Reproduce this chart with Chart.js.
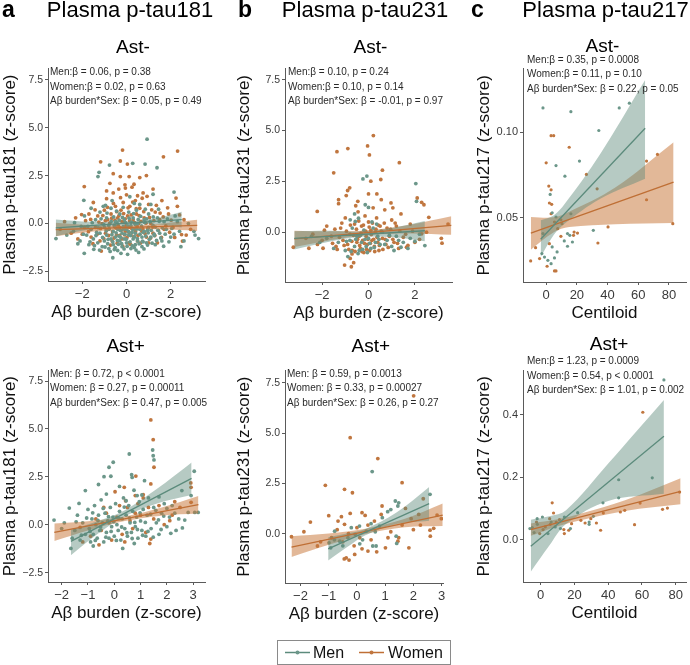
<!DOCTYPE html>
<html><head><meta charset="utf-8">
<script src="https://cdn.jsdelivr.net/npm/chart.js@4.4.1/dist/chart.umd.min.js"></script>
<style>
html,body{margin:0;padding:0;background:#fff;}
#wrap{position:relative;width:690px;height:665px;overflow:hidden;}
#wrap canvas{position:absolute;}
#over{position:absolute;left:0;top:0;}
</style></head><body><div id="wrap"></div>
<script>
// ---------------- ticks ----------------
const zTicks = [-2.5, 0, 2.5, 5, 7.5];
const zTickLabels = ['\u22122.5', '0.0', '2.5', '5.0', '7.5'];
const zTicksNoNeg = [0, 2.5, 5, 7.5];
const zTickLabelsNoNeg = ['0.0', '2.5', '5.0', '7.5'];
const abTicksTop = [-2, 0, 2];
const abTickLabelsTop = ['\u22122', '0', '2'];
const abTicksBottom = [-2, -1, 0, 1, 2, 3];
const abTickLabelsBottom = ['\u22122', '\u22121', '0', '1', '2', '3'];
const clTicks = [0, 20, 40, 60, 80];
const clTickLabels = ['0', '20', '40', '60', '80'];
const t217NegTicks = [0.05, 0.10];
const t217NegTickLabels = ['0.05', '0.10'];
const t217PosTicks = [0, 0.2, 0.4];
const t217PosTickLabels = ['0.0', '0.2', '0.4'];

// ---------------- panel a: p-tau181, Ast- ----------------
const aNegMen = [[0.93,4.40],[-0.77,3.05],[0.28,3.14],[0.84,3.1],[1.38,2.91],[-1.24,2.67],[-1.29,2.45],[2.15,1.64],[1.2,1.53],[-1.93,1.21],[-3.19,-0.78],[3.26,-0.78],[3.05,-0.4],[-1.91,-1.55],[-0.62,-1.78],[2.46,-1.2],[-1.48,-1.34],
[-2.1,-0.9],[-1.8,-0.6],[-1.7,-1.1],[-1.6,-0.3],[-1.5,-0.8],[-1.4,0.2],[-1.3,-1.0],[-1.2,-0.5],[-1.2,0.6],[-1.1,-1.2],[-1.0,-0.2],[-1.0,-0.9],[-0.9,0.3],[-0.9,-0.6],[-0.8,-1.3],[-0.8,-0.1],[-0.7,-0.8],[-0.7,0.8],[-0.6,-0.4],[-0.6,-1.1],[-0.5,0.1],[-0.5,-0.7],[-0.4,-1.4],[-0.4,-0.3],[-0.3,0.5],[-0.3,-0.9],[-0.2,-0.5],[-0.2,-1.2],[-0.1,0.2],[-0.1,-0.8],[0.0,-0.3],[0.0,-1.0],[0.1,0.6],[0.1,-0.6],[0.2,-1.3],[0.2,-0.1],[0.3,-0.8],[0.3,0.3],[0.4,-0.5],[0.4,-1.1],[0.5,0.0],[0.5,-0.9],[0.6,-0.3],[0.6,1.0],[0.7,-0.7],[0.7,-1.2],[0.8,0.2],[0.8,-0.4],[0.9,-1.0],[1.0,-0.2],[1.0,0.5],[1.1,-0.7],[1.2,-0.1],[1.3,-1.1],[1.4,0.3],[1.5,-0.5],[1.6,-0.9],[1.7,0.1],[1.8,-0.3],[2.0,-0.7],[2.2,0.4],[2.4,-0.4],[2.6,-0.9],[2.8,0.0],[3.1,-0.6],[-2.4,-0.4],[-2.7,-0.6],[-1.9,0.4],[-0.65,1.2],[0.15,1.4],[0.45,0.7],[-0.25,-1.55],[0.05,-1.6],[0.55,-1.5],[1.1,1.0],[-1.05,0.9],
[-1.35,-0.45],[-0.85,-1.05],[-0.35,-0.65],[0.25,-0.45],[0.75,-0.95],[1.25,-0.55],[-0.15,-0.15],[0.35,-1.25],[-0.55,-1.35],[0.95,-0.35],
[-1.75,-0.15],[-1.65,-0.95],[-1.55,0.05],[-1.45,-1.15],[-1.38,-0.62],[-1.28,-0.22],[-1.22,-1.38],[-1.15,0.25],[-1.08,-0.72],[-1.02,-0.05],[-0.97,-1.22],[-0.92,-0.38],[-0.88,0.55],[-0.83,-0.82],[-0.78,-0.28],[-0.74,-1.45],[-0.69,0.12],[-0.66,-0.58],[-0.62,-0.95],[-0.58,0.35],[-0.54,-0.15],[-0.51,-1.25],[-0.47,-0.48],[-0.43,0.05],[-0.41,-0.88],[-0.37,-1.08],[-0.33,0.18],[-0.29,-0.35],[-0.26,-0.72],[-0.22,-1.05],[-0.18,0.32],[-0.14,-0.28],[-0.11,-1.32],[-0.07,-0.55],[-0.04,0.05],[-0.01,-0.82],[0.03,-1.18],[0.06,-0.12],[0.09,-0.42],[0.12,0.28],[0.16,-0.95],[0.19,-0.62],[0.22,0.08],[0.26,-1.15],[0.29,-0.32],[0.32,0.52],[0.36,-0.68],[0.39,-0.05],[0.43,-1.38],[0.46,-0.28],[0.49,-0.78],[0.53,0.22],[0.57,-1.05],[0.61,-0.55],[0.64,0.38],[0.68,-0.12],[0.72,-0.92],[0.76,-0.45],[0.79,-1.32],[0.83,0.05],[0.87,-0.65],[0.91,0.25],[0.95,-1.12],[0.98,-0.48],[1.03,-0.82],[1.07,0.12],[1.12,-0.35],[1.16,-1.02],[1.21,0.35],[1.26,-0.62],[1.31,-0.18],[1.36,-0.88],[1.42,-0.35],[1.48,0.12],[1.55,-0.75],[1.62,-0.22],[1.68,-1.18],[1.75,-0.55],[1.85,0.25],[1.92,-0.95],[2.05,-0.25],[2.15,-0.55],[2.3,0.1],[-1.95,-0.55],[-2.05,-0.15],[-2.2,-1.05],[-2.35,0.05],[-0.95,0.95],[-0.15,0.85],[0.35,1.05],[0.85,0.75],[-0.45,0.65],[1.45,0.75],[-1.6,0.8]];
const aNegWomen = [[-0.18,3.83],[2.31,3.78],[1.67,3.48],[-1.17,3.22],[-0.28,3.26],[0.04,3.1],[-0.28,2.45],[0.12,2.45],[-1.91,1.93],[-0.07,2.02],[0.34,2.05],[2.24,1.33],[-2.03,0.47],[2.49,-0.57],[2.53,-0.91],[-1.14,-1.43],
[-2.2,-0.8],[-1.9,-0.2],[-1.7,0.5],[-1.6,-0.7],[-1.5,1.1],[-1.4,-0.2],[-1.3,0.4],[-1.2,-0.9],[-1.1,0.0],[-1.0,0.7],[-0.95,-0.5],[-0.9,1.3],[-0.85,0.2],[-0.8,-0.3],[-0.7,0.5],[-0.65,-0.9],[-0.6,1.6],[-0.55,-0.1],[-0.5,0.9],[-0.45,-0.6],[-0.4,0.3],[-0.35,1.8],[-0.3,-0.2],[-0.25,0.7],[-0.2,-0.8],[-0.15,1.1],[-0.1,0.1],[-0.05,-0.4],[0.0,1.5],[0.05,0.4],[0.1,-0.2],[0.15,0.9],[0.2,-0.6],[0.25,1.9],[0.3,0.2],[0.35,-0.3],[0.4,1.2],[0.45,0.5],[0.5,-0.9],[0.55,0.0],[0.6,0.8],[0.7,-0.4],[0.75,1.6],[0.8,0.3],[0.9,-0.7],[1.0,1.0],[1.1,0.0],[1.2,-0.5],[1.3,0.6],[1.4,-1.0],[1.5,0.2],[1.6,1.2],[1.7,-0.3],[1.9,0.5],[2.1,-0.2],[2.3,0.9],[2.6,0.2],[2.9,-0.3],[-2.5,-0.5],[-2.8,0.1],[-3.0,-0.3],[0.6,2.4],[-0.75,2.1],[1.0,-1.0],[0.1,-1.0],
[-1.72,-0.42],[-1.62,0.22],[-1.52,-1.05],[-1.42,0.72],[-1.33,-0.55],[-1.25,0.08],[-1.17,-0.25],[-1.07,0.42],[-1.03,-0.78],[-0.96,0.15],[-0.91,-0.32],[-0.86,0.85],[-0.81,-0.62],[-0.76,0.02],[-0.72,-1.12],[-0.67,0.28],[-0.63,-0.42],[-0.59,1.05],[-0.56,-0.75],[-0.52,0.18],[-0.48,-0.22],[-0.44,0.62],[-0.42,-1.02],[-0.38,-0.08],[-0.34,0.42],[-0.31,-0.62],[-0.27,1.35],[-0.24,-0.35],[-0.21,0.12],[-0.17,-1.18],[-0.13,0.52],[-0.09,-0.58],[-0.06,0.25],[-0.03,-0.12],[0.02,-0.72],[0.07,0.82],[0.11,-0.45],[0.14,0.15],[0.18,-1.08],[0.21,0.45],[0.24,-0.25],[0.28,1.12],[0.33,-0.68],[0.37,0.05],[0.41,-0.42],[0.44,0.78],[0.48,-0.15],[0.52,-0.62],[0.57,0.42],[0.62,-1.02],[0.66,0.12],[0.71,1.32],[0.74,-0.28],[0.78,0.62],[0.84,-0.52],[0.88,0.02],[0.93,1.42],[0.97,-0.25],[1.04,0.32],[1.09,-0.75],[1.14,0.72],[1.19,-0.18],[1.24,0.15],[1.28,-0.62],[1.35,0.95],[1.44,-0.35],[1.52,0.55],[1.58,-0.72],[1.66,0.35],[1.78,-0.12],[1.86,0.82],[1.95,-0.45],[2.02,0.18],[2.18,-0.72],[2.4,0.45],[2.7,-0.6],[-1.85,0.15],[-2.0,-0.55],[-2.3,0.3],[-0.05,1.85],[0.5,1.45],[-0.9,1.7],[1.2,1.8],[-0.6,2.6],[0.9,2.5]];
const aNegMenFit = [[-3.2,-0.22],[2.5,0.21]];
const aNegWomenFit = [[-3.2,-0.31],[3.2,-0.09]];
const aNegMenBandX = [-3.2,-1.6,-0.2,1.2,2.5];
const aNegMenBandLo = [-0.66,-0.3,-0.08,-0.03,-0.2];
const aNegMenBandHi = [0.22,0.1,0.1,0.25,0.62];
const aNegWomenBandX = [-3.2,-1.6,0,1.6,3.2];
const aNegWomenBandLo = [-0.66,-0.43,-0.29,-0.3,-0.38];
const aNegWomenBandHi = [0.05,-0.08,-0.11,0.01,0.2];

// ---------------- panel a: p-tau181, Ast+ ----------------
const aPosMen = [[1.46,3.9],[1.48,3.6],[1.51,3.38],[0.57,3.69],[-0.04,3.26],[-0.2,3.0],[0.66,2.61],[0.68,2.47],[-0.39,2.51],[-0.13,2.53],[3.04,2.79],[-1.1,1.78],[0.87,1.52],[2.57,1.78],[2.92,1.52],[-2.29,0.24],[-1.65,-1.24],[-1.71,0.87],[-1.34,1.11],[2.81,0.64],[3.06,0.64],[3.19,0.64],[2.68,0.24],[2.59,-0.17],[0.32,-1.24],[-0.8,-1.11],[0.76,-0.98],
[-1.5,-0.3],[-1.4,0.5],[-1.3,-0.8],[-1.2,0.1],[-1.1,-0.5],[-1.0,0.8],[-0.95,-0.2],[-0.9,-0.9],[-0.85,0.3],[-0.8,-0.5],[-0.75,1.0],[-0.7,0.0],[-0.65,-0.7],[-0.6,0.5],[-0.55,-0.3],[-0.5,1.3],[-0.45,0.1],[-0.4,-0.9],[-0.35,0.6],[-0.3,-0.4],[-0.25,0.2],[-0.2,-0.7],[-0.15,0.9],[-0.1,-0.1],[-0.05,0.4],[0.0,-0.6],[0.05,1.1],[0.1,0.0],[0.15,-0.3],[0.2,0.7],[0.25,-0.8],[0.3,0.3],[0.35,1.4],[0.4,-0.2],[0.45,0.5],[0.5,-0.6],[0.55,1.0],[0.6,0.1],[0.65,-0.4],[0.7,0.7],[0.75,1.8],[0.8,-0.1],[0.85,0.4],[0.9,-0.7],[0.95,1.2],[1.0,0.2],[1.05,-0.3],[1.1,0.8],[1.2,-0.6],[1.25,0.5],[1.3,1.4],[1.4,-0.2],[1.5,0.9],[1.6,0.1],[1.7,-0.5],[1.8,0.6],[1.9,1.1],[2.0,-0.1],[2.1,0.4],[2.2,1.0],[2.35,-0.3],[2.45,0.3],[-1.9,0.1],[-2.0,-0.2],[0.2,2.0],[1.15,2.3],[-0.6,2.1],
[-1.25,-0.55],[-1.05,0.35],[-0.92,-0.35],[-0.82,0.62],[-0.72,-0.82],[-0.62,0.22],[-0.52,-0.12],[-0.42,0.85],[-0.32,-0.65],[-0.22,0.42],[-0.12,-0.35],[-0.02,0.15],[0.08,-0.82],[0.18,0.32],[0.28,-0.12],[0.38,0.92],[0.48,-0.42],[0.58,0.35],[0.68,-0.72],[0.78,0.12],[0.88,-0.25],[0.98,0.62],[1.08,-0.55],[1.18,0.12],[1.28,-0.35],[1.38,0.55],[1.48,-0.65],[1.58,0.75],[1.68,0.25],[1.78,-0.25],[1.88,0.45],[2.0,0.85],[2.15,-0.45],[2.3,0.6],[-1.45,0.15],[-1.6,-0.7],[0.45,1.25],[1.05,1.55],[-0.3,1.6],[1.7,1.45]];
const aPosWomen = [[1.39,5.47],[1.48,4.44],[1.51,3.0],[0.82,2.54],[1.39,2.13],[2.91,2.18],[0.8,1.52],[1.1,1.57],[0.03,1.72],[0.38,1.95],[0.43,1.25],[2.92,1.95],[2.92,1.17],[2.3,1.2],[-1.3,-0.14],[2.11,0.21],[1.39,-0.75],[1.35,-0.98],[-0.58,-1.05],
[-0.9,-0.6],[-0.7,0.3],[-0.5,-0.3],[-0.3,0.6],[-0.1,-0.8],[0.1,0.4],[0.3,-0.5],[0.5,0.9],[0.6,0.2],[0.7,-0.2],[0.9,1.1],[1.0,0.5],[1.2,-0.4],[1.3,0.9],[1.5,0.3],[1.7,1.0],[1.9,0.0],[2.2,0.5],[2.5,0.9],[-1.2,-0.9],[-0.4,0.9],[0.2,1.0],[0.8,0.6],[1.1,1.4],[0.4,-0.9],[-0.2,0.1]];
const aPosMenFit = [[-1.65,-0.87],[2.94,2.42]];
const aPosWomenFit = [[-2.28,-0.4],[3.2,1.05]];
const aPosMenBandX = [-1.65,-0.6,0.4,1.6,2.94];
const aPosMenBandLo = [-1.6,-0.45,0.44,1.1,1.55];
const aPosMenBandHi = [-0.25,0.2,0.76,1.85,3.25];
const aPosWomenBandX = [-2.28,-1,0.4,1.8,3.2];
const aPosWomenBandLo = [-0.85,-0.3,0.19,0.47,0.58];
const aPosWomenBandHi = [0.06,0.18,0.43,0.9,1.5];

// ---------------- panel b: p-tau231, Ast- ----------------
const bNegMen = [[-0.07,2.76],[-0.24,2.62],[2.04,2.39],[2.07,1.52],[2.43,-0.66],[1.4,-0.74],[-2.46,-0.21],[-0.89,-1.2],[-0.79,0.61],[-0.43,0.69],[-0.57,0.53],[-0.14,1.35],[0,1.22],
[-1.0,-0.9],[-0.8,-0.4],[-0.6,-0.7],[-0.5,-0.2],[-0.4,-0.9],[-0.3,-0.5],[-0.2,0.1],[-0.1,-0.7],[0.0,-0.3],[0.1,-0.8],[0.2,0.2],[0.3,-0.5],[0.4,-0.2],[0.5,-0.6],[0.6,0.0],[0.8,-0.4],[1.0,-0.7],[1.2,-0.2],[1.5,-0.5],[1.8,-0.3],[2.2,-0.1],[-1.3,-0.5],[-1.8,-0.3],[-0.7,0.2],[0.15,0.5],
[-0.95,-0.45],[-0.75,-0.95],[-0.55,-0.35],[-0.45,-1.05],[-0.35,-0.15],[-0.25,-0.85],[-0.15,-0.35],[-0.05,-1.0],[0.05,-0.55],[0.25,-0.75],[0.45,-0.35],[0.7,-0.6],[0.9,-0.15],[1.1,-0.9],[1.3,-0.4],[1.7,-0.8],[2.0,-0.45],[-1.5,-0.8],[-2.1,-0.5],[-0.6,0.9],[0.35,0.4]];
const bNegWomen = [[0.21,4.75],[-0.89,4.11],[-0.04,4.24],[0.04,3.8],[-1.36,3.96],[1.33,3.42],[-1.5,2.92],[0.6,3.05],[0.1,2.51],[0.53,2.59],[-0.81,2.18],[-0.9,2.05],[-0.96,1.8],[-1.29,1.6],[-1.29,1.4],[2.1,1.68],[2.29,1.47],[2.39,1.35],[-2.21,1.02],[0,1.88],[0.36,1.88],[-0.46,1.52],[0.97,1.44],[2.6,0.73],[3.43,0.4],[3.14,-0.3],[3.17,-0.54],[2.29,-0.08],[1.64,-0.74],[-3.24,-0.74],[-2.57,-0.79],[-1.96,-0.79],[-1.03,-1.62],[-0.74,-1.7],[-0.64,-1.5],[-0.79,-1.29],[-0.71,-1.07],
[-1.6,-0.2],[-1.4,-0.7],[-1.2,0.2],[-1.1,-0.4],[-1.0,0.7],[-0.9,-0.6],[-0.8,-0.1],[-0.7,-0.9],[-0.6,0.4],[-0.5,-0.5],[-0.45,1.0],[-0.4,-0.2],[-0.35,-0.8],[-0.3,0.3],[-0.25,-0.4],[-0.2,-1.0],[-0.15,0.8],[-0.1,-0.2],[-0.05,-0.6],[0.0,0.5],[0.05,-0.9],[0.1,0.1],[0.15,-0.4],[0.2,1.2],[0.25,-0.7],[0.3,0.0],[0.35,0.7],[0.4,-0.5],[0.45,-0.9],[0.5,0.3],[0.6,-0.3],[0.7,1.1],[0.75,-0.6],[0.8,0.2],[0.9,-0.2],[1.0,0.6],[1.1,-0.5],[1.2,0.3],[1.3,-0.8],[1.4,0.9],[1.6,-0.1],[1.8,0.4],[2.0,-0.5],[2.5,0.0],[-2.0,-0.4],[-2.4,-0.1],[-1.8,0.3],[0.55,1.6],[-0.55,1.3],[1.05,1.2],
[-1.55,-0.55],[-1.45,0.15],[-1.35,-0.85],[-1.25,-0.25],[-1.15,0.45],[-1.05,-0.65],[-0.95,0.05],[-0.85,-0.85],[-0.78,0.35],[-0.72,-0.45],[-0.65,-0.15],[-0.58,-0.95],[-0.52,0.15],[-0.47,-0.35],[-0.42,0.55],[-0.38,-0.65],[-0.32,-0.05],[-0.28,-0.95],[-0.22,0.35],[-0.18,-0.55],[-0.12,0.05],[-0.08,-0.85],[-0.02,-0.35],[0.03,0.25],[0.08,-0.55],[0.12,-0.12],[0.17,0.45],[0.22,-0.35],[0.27,-0.95],[0.32,0.15],[0.37,-0.25],[0.42,0.35],[0.47,-0.65],[0.55,0.05],[0.62,-0.85],[0.68,0.45],[0.72,-0.35],[0.85,-0.75],[0.95,0.15],[1.05,-0.35],[1.15,0.45],[1.25,-0.55],[1.35,0.05],[1.5,-0.25],[1.7,-0.65],[1.9,0.05],[2.2,-0.35],[-2.2,-0.6],[-1.9,0.1],[-2.7,-0.3]];
const bNegMenFit = [[-3.2,-0.3],[2.43,0.07]];
const bNegWomenFit = [[-3.2,-0.33],[3.57,0.33]];
const bNegMenBandX = [-3.2,-1.6,-0.3,1.1,2.43];
const bNegMenBandLo = [-0.85,-0.45,-0.23,-0.25,-0.45];
const bNegMenBandHi = [0.05,0.07,0.03,0.23,0.55];
const bNegWomenBandX = [-3.2,-1.6,0,1.8,3.57];
const bNegWomenBandLo = [-0.73,-0.38,-0.14,-0.06,-0.13];
const bNegWomenBandHi = [0.07,0.04,0.1,0.37,0.78];

// ---------------- panel b: p-tau231, Ast+ ----------------
const bPosMen = [[0.54,3.09],[2.59,1.96],[1.36,1.63],[1.48,1.54],[1.45,1.38],[1.09,1.1],[-0.79,0.13],[-0.93,-0.7],[0.56,-0.61],[0.68,-0.61],[1.41,-0.48],[1.39,-0.12],[-0.99,-0.45],[-0.61,-0.37],[-0.32,-0.2],[-0.06,-0.03],[0.09,0.38],[0.33,0.13],[0.8,0.38],[-0.5,-0.6],[-0.2,0.3],[0.2,-0.3],[0.5,0.5],[0.9,0.8],[1.2,1.2],[-0.8,-0.3],[0.1,-0.5],[0.65,0.1]];
const bPosWomen = [[2.01,6.86],[-0.24,4.78],[0.74,3.74],[1.6,2.54],[-1.12,2.41],[-0.44,2.21],[-0.16,2.04],[2.35,1.74],[0.86,0.96],[1.72,1.26],[0.89,1.38],[-0.24,1.01],[0.18,1.05],[0.29,0.91],[2.84,0.93],[2.99,0.75],[2.19,0.96],[1.92,0.75],[2.25,0.43],[2.59,0.18],[2.72,0.27],[2.6,-0.12],[1.6,0.43],[-1.65,0.58],[-1.88,0.1],[-2.32,-0.15],[-1.29,-0.4],[-1.4,-0.61],[-0.55,0.85],[-0.67,0.63],[-0.44,0.47],[-0.38,-1.2],[-0.28,-1.31],[-0.45,-1.25],[-0.08,-1.03],[0.18,-0.75],[0.39,-0.86],[1.01,-0.7],[1.45,-0.37],[1.48,-0.2],[1.84,-0.7],[0.39,0.43],[0.62,0.63],[-0.9,-0.2],[-0.7,0.2],[-0.5,-0.4],[-0.3,0.0],[0.0,0.3],[0.1,-0.2],[0.5,-0.3],[0.7,-0.9],[1.2,0.1],[1.1,-0.2],[-1.0,0.9],[-0.1,-0.6],[2.0,0.2]];
const bPosMenFit = [[-1.02,-0.75],[2.56,1.5]];
const bPosWomenFit = [[-2.32,-0.66],[3.04,0.93]];
const bPosMenBandX = [-1.02,-0.2,0.3,1.4,2.56];
const bPosMenBandLo = [-1.33,-0.52,-0.08,0.48,0.65];
const bPosMenBandHi = [-0.17,0.06,0.24,1.06,2.33];
const bPosWomenBandX = [-2.32,-1,0.3,1.7,3.04];
const bPosWomenBandLo = [-1.16,-0.55,-0.01,0.32,0.38];
const bPosWomenBandHi = [-0.12,0.01,0.25,0.74,1.5];

// ---------------- panel c: p-tau217, Ast- ----------------
const cNegMen = [[-2.1,0.1142],[16.1,0.112],[47.6,0.1142],[54.2,0.117],[34.3,0.101],[6.4,0.0805],[21.7,0.0831],[12.2,0.0743],[2.6,0.0636],[3.9,0.0529],[6.4,0.0504],[30.7,0.0426],[16.1,0.0523],[13.9,0.0407],[15.4,0.0397],[11.8,0.0364],[13.9,0.0333],[17.1,0.0358],[-2.8,0.029],[-1.1,0.027],[1.1,0.0251],[3.2,0.0231],[5.4,0.0265],[3.9,0.0329],[7.1,0.03],[-2.1,0.0407]];
const cNegWomen = [[3.2,0.098],[4.9,0.098],[15,0.0912],[0,0.0821],[26.2,0.0753],[1.7,0.0685],[3.2,0.0663],[2.1,0.0586],[3.6,0.0578],[33.2,0.0669],[65.4,0.0605],[65.4,0.0831],[72.5,0.087],[82.5,0.0465],[40.3,0.0446],[33.7,0.0352],[9.6,0.0488],[10.3,0.0465],[18.2,0.0416],[20.4,0.041],[17.8,0.0397],[9.6,0.0391],[-6.9,0.0325],[-10.1,0.0247],[-4.3,0.0261],[0.6,0.0216],[6.4,0.0189],[5.4,0.0189],[2.1,0.0348],[7.5,0.0436],[3.2,0.0523],[5.4,0.0475]];
const cNegMenFit = [[-3.6,0.0374],[64.5,0.1023]];
const cNegWomenFit = [[-10,0.041],[83,0.0708]];
const cNegMenBandX = [-3.6,5,12,35,64.5];
const cNegMenBandLo = [0.027,0.040,0.0465,0.061,0.0728];
const cNegMenBandHi = [0.0485,0.0515,0.058,0.087,0.1305];
const cNegWomenBandX = [-10,5,15,45,83];
const cNegWomenBandLo = [0.0313,0.0415,0.0445,0.0462,0.0469];
const cNegWomenBandHi = [0.0504,0.0502,0.0535,0.0677,0.0942];

// ---------------- panel c: p-tau217, Ast+ ----------------
const cPosMen = [[73,0.512],[66.1,0.198],[46.2,0.192],[46.2,0.134],[36.9,0.118],[28.7,0.0565],[28.7,0.049],[21.9,0.0864],[31.2,0.0747],[-2.1,0.0672],[1,0.0725],[-5,0.0384],[-3.9,0.0224],[4.3,0.0192],[14,0.0725],[17.6,0.0352],[-2,0.049],[6.2,0.0565],[8.6,0.0405],[11.7,0.0352],[-6.4,0.0352]];
const cPosWomen = [[60.5,0.4085],[58.9,0.117],[6.8,0.118],[37.1,0.085],[47.2,0.0885],[49.8,0.094],[72.2,0.097],[75.1,0.101],[82.3,0.1525],[55.6,0.048],[35.5,0.0299],[33,0.0533],[26.3,0.0533],[23.8,0.0619],[29.7,0.0672],[7.6,0.0853],[14,0.0192],[13.7,0.032],[16.6,0.0299],[18.3,0.0512],[-0.6,0.0192],[1.4,0.032],[9.2,0.0565],[11.1,0.064],[5.7,0.049],[2.7,0.0405],[-2.5,0.0565],[5.3,0.0672]];
const cPosMenFit = [[-5.9,-0.0213],[73,0.3317]];
const cPosWomenFit = [[-5.9,0.032],[82.9,0.1547]];
const cPosMenBandX = [-5.9,5,15,40,73];
const cPosMenBandLo = [-0.103,-0.02,0.05,0.124,0.147];
const cPosMenBandHi = [0.064,0.075,0.094,0.244,0.448];
const cPosWomenBandX = [-5.9,10,25,50,82.9];
const cPosWomenBandLo = [0.012,0.043,0.064,0.092,0.113];
const cPosWomenBandHi = [0.052,0.065,0.085,0.126,0.197];

// ---------------- texts ----------------
const panelLetters = ['a', 'b', 'c'];
const panelTitles = ['Plasma p-tau181', 'Plasma p-tau231', 'Plasma p-tau217'];
const rowTitles = ['Ast-', 'Ast+'];
const yTitles = ['Plasma p-tau181 (z-score)', 'Plasma p-tau231 (z-score)', 'Plasma p-tau217 (z-score)'];
const xTitles = ['A\u03b2 burden (z-score)', 'A\u03b2 burden (z-score)', 'Centiloid'];
const statsANeg = ['Men:\u03b2 = 0.06, p = 0.38', 'Women:\u03b2 = 0.02, p = 0.63', 'A\u03b2 burden*Sex: \u03b2 = 0.05, p = 0.49'];
const statsBNeg = ['Men:\u03b2 = 0.10, p = 0.24', 'Women:\u03b2 = 0.10, p = 0.14', 'A\u03b2 burden*Sex: \u03b2 = -0.01, p = 0.97'];
const statsCNeg = ['Men:\u03b2 = 0.35, p = 0.0008', 'Women:\u03b2 = 0.11, p = 0.10', 'A\u03b2 burden*Sex: \u03b2 = 0.22, p = 0.05'];
const statsAPos = ['Men: \u03b2 = 0.72, p < 0.0001', 'Women: \u03b2 = 0.27, p = 0.00011', 'A\u03b2 burden*Sex: \u03b2 = 0.47, p = 0.005'];
const statsBPos = ['Men: \u03b2 = 0.59, p = 0.0013', 'Women: \u03b2 = 0.33, p = 0.00027', 'A\u03b2 burden*Sex: \u03b2 = 0.26, p = 0.27'];
const statsCPos = ['Men:\u03b2 = 1.23, p = 0.0009', 'Women:\u03b2 = 0.54, p < 0.0001', 'A\u03b2 burden*Sex: \u03b2 = 1.01, p = 0.002'];
const seriesNames = ['Men', 'Women'];

// ---------------- styling ----------------
const FONT = '"Liberation Sans", Arial, Helvetica, sans-serif';
const MEN_PT = '#6c978a';
const WOMEN_PT = '#c0763f';
const MEN_LINE = '#5c8b7c';
const WOMEN_LINE = '#bf6f35';
const MEN_BAND = 'rgba(95,140,125,0.46)';
const WOMEN_BAND = 'rgba(200,118,58,0.52)';
const AXIS = '#5a5a5a';
Chart.defaults.font.family = FONT;

const wrap = document.getElementById('wrap');
const toXY = a => a.map(d => ({x: d[0], y: d[1]}));
const band = (xs, ys) => xs.map((x, i) => ({x: x, y: ys[i]}));

function makePanel(p) {
  const c = document.createElement('canvas');
  const W = p.yW + (p.plotR - p.plotL) + p.padR;
  const H = p.padT + (p.plotB - p.plotT) + p.xH;
  c.width = W; c.height = H;
  c.style.width = W + 'px'; c.style.height = H + 'px';
  c.style.left = (p.plotL - p.yW) + 'px';
  c.style.top = (p.plotT - p.padT) + 'px';
  wrap.appendChild(c);
  const lineDs = (d, col) => ({type: 'line', data: toXY(d), borderColor: col, borderWidth: 1.3, pointRadius: 0, fill: false, tension: 0, order: 0});
  const bandDs = (xs, ys, fill, col) => ({type: 'line', data: band(xs, ys), borderColor: 'transparent', borderWidth: 0, pointRadius: 0, tension: 0.35, fill: fill, backgroundColor: col, order: 1});
  new Chart(c, {
    type: 'scatter',
    data: {datasets: [
      lineDs(p.menFit, MEN_LINE),
      lineDs(p.womenFit, WOMEN_LINE),
      bandDs(p.menBand[0], p.menBand[1], false, 'transparent'),
      bandDs(p.menBand[0], p.menBand[2], 2, MEN_BAND),
      bandDs(p.womenBand[0], p.womenBand[1], false, 'transparent'),
      bandDs(p.womenBand[0], p.womenBand[2], 4, WOMEN_BAND),
      {data: toXY(p.men), pointRadius: p.r, pointBackgroundColor: MEN_PT, pointBorderWidth: 0, borderWidth: 0, order: 2},
      {data: toXY(p.women), pointRadius: p.r, pointBackgroundColor: WOMEN_PT, pointBorderWidth: 0, borderWidth: 0, order: 2}
    ]},
    options: {
      responsive: false, animation: false, devicePixelRatio: 1, events: [],
      layout: {padding: {top: p.padT, right: p.padR, left: 0, bottom: 0}},
      plugins: {legend: {display: false}, tooltip: {enabled: false}},
      scales: {
        x: {
          type: 'linear', min: p.xMin, max: p.xMax,
          afterBuildTicks: s => { s.ticks = p.xTicks.map(v => ({value: v})); },
          afterFit: s => { s.height = p.xH; },
          ticks: {callback: v => { const i = p.xTicks.indexOf(v); return i >= 0 ? p.xLabels[i] : ''; },
                  font: {size: 13}, color: '#3a3a3a', padding: 3, maxRotation: 0, autoSkip: false},
          grid: {display: true, drawOnChartArea: false, drawTicks: true, tickLength: 3, color: AXIS},
          border: {display: true, color: AXIS, width: 1},
          title: {display: true, text: p.xTitle, font: {size: 17}, color: '#111', padding: 0}
        },
        y: {
          type: 'linear', min: p.yMin, max: p.yMax,
          afterBuildTicks: s => { s.ticks = p.yTicks.map(v => ({value: v})); },
          afterFit: s => { s.width = p.yW; },
          ticks: {callback: v => { const i = p.yTicks.indexOf(v); return i >= 0 ? p.yLabels[i] : ''; },
                  font: {size: p.yFont}, color: '#3a3a3a', padding: 2, autoSkip: false},
          grid: {display: true, drawOnChartArea: false, drawTicks: true, tickLength: 3, color: AXIS},
          border: {display: true, color: AXIS, width: 1},
          title: {display: true, text: p.yTitle, font: {size: 17}, color: '#111', padding: 0}
        }
      }
    }
  });
}

const topT = 68, topB = 281, botT = 370, botB = 582;
makePanel({plotL: 48, plotR: 205, plotT: topT, plotB: topB, yW: 48, padT: 8, padR: 6, xH: 42,
  xMin: -3.55, xMax: 3.55, yMin: -2.99, yMax: 8.09, xTicks: abTicksTop, xLabels: abTickLabelsTop,
  yTicks: zTicks, yLabels: zTickLabels, yFont: 10.5, xTitle: xTitles[0], yTitle: yTitles[0], r: 1.9,
  men: aNegMen, women: aNegWomen, menFit: aNegMenFit, womenFit: aNegWomenFit,
  menBand: [aNegMenBandX, aNegMenBandLo, aNegMenBandHi], womenBand: [aNegWomenBandX, aNegWomenBandLo, aNegWomenBandHi]});
makePanel({plotL: 48, plotR: 205, plotT: botT, plotB: botB, yW: 48, padT: 8, padR: 6, xH: 42,
  xMin: -2.52, xMax: 3.45, yMin: -2.99, yMax: 8.06, xTicks: abTicksBottom, xLabels: abTickLabelsBottom,
  yTicks: zTicks, yLabels: zTickLabels, yFont: 10.5, xTitle: xTitles[0], yTitle: yTitles[0], r: 1.9,
  men: aPosMen, women: aPosWomen, menFit: aPosMenFit, womenFit: aPosWomenFit,
  menBand: [aPosMenBandX, aPosMenBandLo, aPosMenBandHi], womenBand: [aPosWomenBandX, aPosWomenBandLo, aPosWomenBandHi]});
makePanel({plotL: 285, plotR: 452, plotT: topT, plotB: 282, yW: 51, padT: 8, padR: 6, xH: 42,
  xMin: -3.6, xMax: 3.6, yMin: -2.45, yMax: 8.06, xTicks: abTicksTop, xLabels: abTickLabelsTop,
  yTicks: zTicksNoNeg, yLabels: zTickLabelsNoNeg, yFont: 10.5, xTitle: xTitles[1], yTitle: yTitles[1], r: 1.9,
  men: bNegMen, women: bNegWomen, menFit: bNegMenFit, womenFit: bNegWomenFit,
  menBand: [bNegMenBandX, bNegMenBandLo, bNegMenBandHi], womenBand: [bNegWomenBandX, bNegWomenBandLo, bNegWomenBandHi]});
makePanel({plotL: 285, plotR: 443, plotT: botT, plotB: 583, yW: 51, padT: 8, padR: 6, xH: 42,
  xMin: -2.55, xMax: 3.05, yMin: -2.45, yMax: 8.13, xTicks: abTicksBottom, xLabels: abTickLabelsBottom,
  yTicks: zTicksNoNeg, yLabels: zTickLabelsNoNeg, yFont: 10.5, xTitle: xTitles[1], yTitle: yTitles[1], r: 1.9,
  men: bPosMen, women: bPosWomen, menFit: bPosMenFit, womenFit: bPosWomenFit,
  menBand: [bPosMenBandX, bPosMenBandLo, bPosMenBandHi], womenBand: [bPosWomenBandX, bPosWomenBandLo, bPosWomenBandHi]});
makePanel({plotL: 523, plotR: 688, plotT: topT, plotB: 282, yW: 49, padT: 8, padR: 2, xH: 42,
  xMin: -15.1, xMax: 91.1, yMin: 0.0124, yMax: 0.1372, xTicks: clTicks, xLabels: clTickLabels,
  yTicks: t217NegTicks, yLabels: t217NegTickLabels, yFont: 11, xTitle: xTitles[2], yTitle: yTitles[2], r: 1.6,
  men: cNegMen, women: cNegWomen, menFit: cNegMenFit, womenFit: cNegWomenFit,
  menBand: [cNegMenBandX, cNegMenBandLo, cNegMenBandHi], womenBand: [cNegWomenBandX, cNegWomenBandLo, cNegWomenBandHi]});
makePanel({plotL: 523, plotR: 688, plotT: botT, plotB: botB, yW: 49, padT: 8, padR: 2, xH: 42,
  xMin: -10.5, xMax: 86.1, yMin: -0.136, yMax: 0.542, xTicks: clTicks, xLabels: clTickLabels,
  yTicks: t217PosTicks, yLabels: t217PosTickLabels, yFont: 11, xTitle: xTitles[2], yTitle: yTitles[2], r: 1.6,
  men: cPosMen, women: cPosWomen, menFit: cPosMenFit, womenFit: cPosWomenFit,
  menBand: [cPosMenBandX, cPosMenBandLo, cPosMenBandHi], womenBand: [cPosWomenBandX, cPosWomenBandLo, cPosWomenBandHi]});

// ---------------- text overlay ----------------
const NS = 'http://www.w3.org/2000/svg';
const svg = document.createElementNS(NS, 'svg');
svg.setAttribute('id', 'over'); svg.setAttribute('width', 690); svg.setAttribute('height', 665);
wrap.appendChild(svg);
function txt(s, x, y, size, opts) {
  opts = opts || {};
  const t = document.createElementNS(NS, 'text');
  t.setAttribute('x', x); t.setAttribute('y', y);
  t.setAttribute('font-family', FONT); t.setAttribute('font-size', size);
  t.setAttribute('fill', opts.fill || '#000');
  if (opts.anchor) t.setAttribute('text-anchor', opts.anchor);
  if (opts.bold) t.setAttribute('font-weight', 'bold');
  t.textContent = s; svg.appendChild(t);
}
const letterX = [2, 238, 471];
const titleCX = [130, 365, 605.5];
const rowCX = [[133, 370.5, 602.5], [125.7, 370.8, 609]];
const rowBase = [[53, 53, 52], [352, 352, 350]];
for (let i = 0; i < 3; i++) {
  txt(panelLetters[i], letterX[i], 17, 23, {bold: true});
  txt(panelTitles[i], titleCX[i], 17, 22, {anchor: 'middle'});
  for (let r = 0; r < 2; r++) txt(rowTitles[r], rowCX[r][i], rowBase[r][i], 19, {anchor: 'middle'});
}
const statBlocks = [[statsANeg, 50, 75], [statsBNeg, 288, 75], [statsCNeg, 527, 62.5],
                    [statsAPos, 50, 376.5], [statsBPos, 287, 376.5], [statsCPos, 527, 364]];
statBlocks.forEach(b => b[0].forEach((s, k) => txt(s, b[1], b[2] + k * 14.6, 10, {fill: '#2a2a2a'})));

// legend
const lg = document.createElementNS(NS, 'rect');
lg.setAttribute('x', 277.5); lg.setAttribute('y', 640.5); lg.setAttribute('width', 173); lg.setAttribute('height', 24);
lg.setAttribute('fill', '#fff'); lg.setAttribute('stroke', '#8a8a8a'); lg.setAttribute('stroke-width', 1);
svg.appendChild(lg);
const legItems = [[285, MEN_LINE, MEN_PT, 313], [359, WOMEN_LINE, WOMEN_PT, 388]];
legItems.forEach((it, k) => {
  const l = document.createElementNS(NS, 'line');
  l.setAttribute('x1', it[0]); l.setAttribute('x2', it[0] + 25); l.setAttribute('y1', 652.5); l.setAttribute('y2', 652.5);
  l.setAttribute('stroke', it[1]); l.setAttribute('stroke-width', 1.5); svg.appendChild(l);
  const cc = document.createElementNS(NS, 'circle');
  cc.setAttribute('cx', it[0] + 12.5); cc.setAttribute('cy', 652.5); cc.setAttribute('r', 2); cc.setAttribute('fill', it[2]);
  svg.appendChild(cc);
  txt(seriesNames[k], it[3], 658, 16, {fill: '#111'});
});
</script></body></html>
